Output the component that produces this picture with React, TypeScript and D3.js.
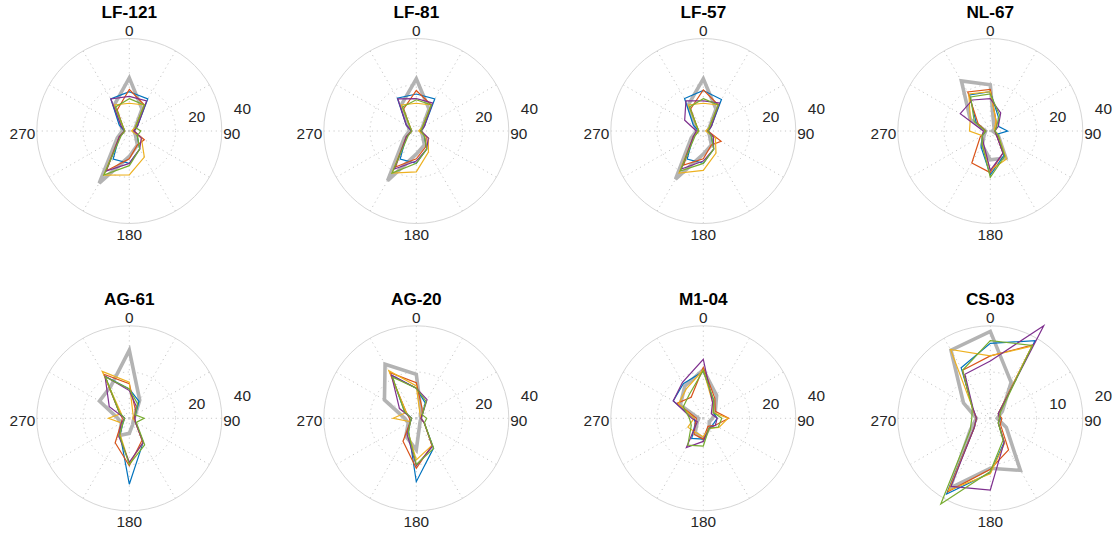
import React from 'react';
import * as d3 from 'd3';

const ANGLES = [0, 30, 60, 90, 120, 150, 180, 210, 240, 270, 300, 330];
const PANEL_TITLES = ['LF-121', 'LF-81', 'LF-57', 'NL-67', 'AG-61', 'AG-20', 'M1-04', 'CS-03'];
const SERIES_COLORS = ['#b3b3b3', '#0072BD', '#D95319', '#EDB120', '#7E2F8E', '#77AC30'];
const THETA_LABELS = [0, 90, 180, 270];
const R_TICKS_DEFAULT = [20, 40];
const R_TICKS_CS03 = [10, 20];

// series order: gray, blue, orange, yellow, purple, green ; values at ANGLES
const LF121 = [
  [23, 11, 3, 2, 3, 7, 11, 26, 6, 3, 4, 13],
  [17, 16, 4, 2, 4, 9, 14, 14, 5, 2, 5, 16],
  [18, 13, 3, 2, 7.5, 7, 12, 20, 5, 2, 3, 10.5],
  [12, 13, 3, 1, 6, 13, 19, 22, 5, 2, 3, 13],
  [15, 15, 4, 2, 6, 9, 14, 20, 5, 2, 4, 16],
  [14, 13, 3, 5, 4, 9, 15, 22, 4, 2, 3, 12],
];
const LF81 = [
  [22.6, 11, 3, 2, 3, 7, 10, 24.8, 6, 3, 4, 13],
  [16, 16, 4, 2, 4, 9, 14, 14, 5, 2, 5, 16.4],
  [17.5, 13, 3, 2, 5, 8, 12, 18, 5, 2, 3, 11],
  [12, 13, 3, 1, 6, 10.5, 17.7, 21, 5, 2, 3, 13],
  [14, 14, 4, 2, 6, 9, 13, 19, 5, 2, 5, 16],
  [13.5, 13, 3, 2, 4, 9, 14, 21, 4, 2, 3, 12],
];
const LF57 = [
  [22.6, 11, 3, 2, 3, 7, 10, 24, 6, 3, 4, 13],
  [17.5, 15.7, 4, 2, 4, 9, 14, 14, 5, 2, 5, 16.2],
  [17.8, 13, 3, 2, 8.9, 7, 12, 17, 5, 2, 3, 11],
  [12, 13, 3, 1, 6, 11, 17, 21, 5, 2, 3, 13],
  [13, 14, 4, 2, 5, 9, 13, 19, 5, 3, 9.3, 15],
  [14, 13, 3, 2, 4, 9, 14, 20, 4, 2, 3, 12],
];
const NL67 = [
  [20, 3, 2, 1, 4, 13.5, 12.5, 7, 3, 2, 10, 25],
  [17, 7, 4, 7.5, 3, 12, 19, 8, 4, 2, 7, 18],
  [18, 5, 3, 2, 3, 11, 18, 16, 5, 2, 6, 19.5],
  [17, 5, 2, 2, 4, 14, 17, 7, 4, 9, 10, 18.5],
  [14, 9, 4, 2, 3, 11, 17, 6, 4, 3, 15, 15.5],
  [16, 8, 3, 2, 4, 12.5, 20, 7, 4, 2, 8, 17],
];
const AG61 = [
  [29.5, 9, 3, 2, 2, 3, 6.5, 8.6, 4, 5, 14.9, 16],
  [12.7, 8.4, 3, 2, 3, 12, 28.5, 8, 3, 2, 5, 21],
  [15, 5, 3, 2, 3, 11, 20.5, 12.2, 4, 3, 5, 22],
  [15.6, 3, 2, 1.5, 3, 12, 19.5, 8, 4, 9, 4, 23.4],
  [12, 6, 3, 2.5, 3, 12, 19, 9, 4, 2, 10, 21],
  [12.7, 7.2, 3, 6.4, 3.5, 13.3, 20, 8.5, 3, 2, 5, 20.6],
];
const AG20 = [
  [19, 4, 2, 2, 2, 3, 13.6, 9, 4, 5, 15.9, 27],
  [13, 7.7, 3, 2, 4, 14.9, 27.4, 6.6, 3, 2, 5.8, 21.5],
  [15.4, 5, 3, 2, 4, 13.5, 21.6, 11.5, 3, 3, 5, 22.8],
  [14, 3, 2, 2, 4, 13.5, 18, 7, 3, 10, 5, 23.8],
  [13, 9.3, 3, 2, 4, 14, 20.5, 8, 3, 2, 8.4, 21.5],
  [13, 8.5, 3, 4.5, 4, 15, 20, 7, 3, 2, 6, 20.5],
];
const M104 = [
  [21, 11.5, 6, 4, 3, 5, 9, 7, 3, 2, 11.5, 16],
  [20.3, 9, 5, 6, 5, 5, 9, 10, 4, 4, 15, 17.3],
  [22, 10, 6, 11, 6, 4, 9, 8, 4, 3, 13, 10.5],
  [21, 8, 5, 10.7, 7.8, 5, 8, 7, 7.7, 4, 12.4, 14.7],
  [25.5, 8, 4, 6, 6, 5, 10, 14.6, 3, 5, 15, 18],
  [20.7, 9, 5, 8, 7.5, 5, 12, 13.4, 6, 6, 10, 12],
];
const CS03 = [
  [18.8, 9, 3, 1.5, 4, 13, 10.8, 17.4, 5, 3, 6.7, 17],
  [16.2, 19.4, 2, 2.2, 2, 6, 11.8, 18.9, 4, 3, 4.4, 12.6],
  [13.5, 18.3, 2, 2.5, 2.5, 7.9, 11, 18.3, 4, 3, 4.5, 12],
  [13.5, 18, 2, 2, 2, 6.2, 12, 18, 4, 3, 4.4, 17.2],
  [12.4, 23.1, 2, 2, 2, 6, 15.5, 17, 4, 3, 4.3, 11],
  [16.8, 18.2, 2.5, 2, 2, 5.5, 11.5, 21.4, 5, 4, 4.5, 12],
];

const PANEL_DATA = [LF121, LF81, LF57, NL67, AG61, AG20, M104, CS03];
const PANEL_RTICKS = [R_TICKS_DEFAULT, R_TICKS_DEFAULT, R_TICKS_DEFAULT, R_TICKS_DEFAULT,
  R_TICKS_DEFAULT, R_TICKS_DEFAULT, R_TICKS_DEFAULT, R_TICKS_CS03];

const W = 1114;
const H = 536;
const R = 92.5;
const FONT = '"Liberation Sans", Arial, Helvetica, sans-serif';
const toRad = (d: number) => (d * Math.PI) / 180;

function Panel({ title, data, rTicks, cx, cy }: any) {
  const rMax = rTicks[rTicks.length - 1];
  const r = d3.scaleLinear().domain([0, rMax]).range([0, R]);
  const line = d3
    .lineRadial<number>()
    .angle((_, i) => toRad(ANGLES[i]))
    .radius((v) => r(v))
    .curve(d3.curveLinearClosed);
  const gridColor = '#c8c8c8';
  const rLabelAngle = toRad(80);
  return (
    <g transform={`translate(${cx},${cy})`}>
      {ANGLES.map((a) => (
        <line
          key={'s' + a}
          x1={0}
          y1={0}
          x2={R * Math.sin(toRad(a))}
          y2={-R * Math.cos(toRad(a))}
          stroke={gridColor}
          strokeWidth={1}
          strokeDasharray="1.2 3.6"
        />
      ))}
      {rTicks.slice(0, -1).map((t: number) => (
        <circle key={'c' + t} r={r(t)} fill="none" stroke={gridColor} strokeWidth={1} strokeDasharray="1.2 3.6" />
      ))}
      <circle r={R} fill="none" stroke="#d6d6d6" strokeWidth={1} />
      {data.map((vals: number[], i: number) => (
        <path
          key={'p' + i}
          d={line(vals) || ''}
          fill="none"
          stroke={SERIES_COLORS[i]}
          strokeWidth={i === 0 ? 3.6 : 1.2}
          strokeLinejoin="miter"
        />
      ))}
      <text x={0} y={-112.9} textAnchor="middle" fontFamily={FONT} fontWeight="bold" fontSize={17.2} fill="#000">
        {title}
      </text>
      {THETA_LABELS.map((a) => {
        let x = 0, y = 0, anchor = 'middle';
        if (a === 0) { y = -R - 2.4; }
        else if (a === 180) { y = R + 16.2; }
        else if (a === 90) { x = R + 1.5; y = 7.5; anchor = 'start'; }
        else { x = -R - 1.5; y = 7.5; anchor = 'end'; }
        return (
          <text key={'t' + a} x={x} y={y} textAnchor={anchor} fontFamily={FONT} fontSize={15.4} fill="#262626">
            {a}
          </text>
        );
      })}
      {rTicks.map((t: number) => (
        <text
          key={'r' + t}
          x={r(t) * Math.sin(rLabelAngle) + 22}
          y={-r(t) * Math.cos(rLabelAngle) - 7 + 5.7}
          textAnchor="middle"
          fontFamily={FONT}
          fontSize={15.4}
          fill="#262626"
        >
          {t}
        </text>
      ))}
    </g>
  );
}

export default function App() {
  return (
    <svg
      width={W}
      height={H}
      viewBox={`0 0 ${W} ${H}`}
      style={{ position: 'absolute', left: 0, top: 0, background: '#fff' }}
    >
      <rect width={W} height={H} fill="#fff" />
      {PANEL_TITLES.map((t, i) => {
        const col = i % 4;
        const row = Math.floor(i / 4);
        return (
          <Panel
            key={t}
            title={t}
            data={PANEL_DATA[i]}
            rTicks={PANEL_RTICKS[i]}
            cx={129.3 + 287 * col}
            cy={131 + 287.3 * row}
          />
        );
      })}
    </svg>
  );
}
